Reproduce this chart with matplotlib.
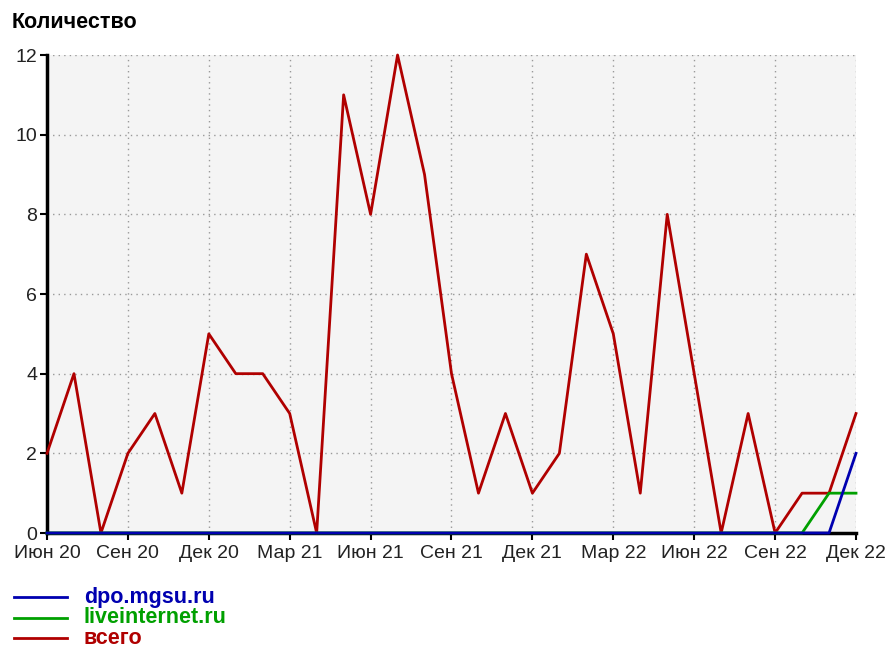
import matplotlib
matplotlib.use("Agg")
import matplotlib.pyplot as plt
from matplotlib.lines import Line2D

plt.rcParams['font.family'] = ['Liberation Sans', 'DejaVu Sans']

# monthly values, Jun 2020 .. Dec 2022
months = list(range(31))
total = [2, 4, 0, 2, 3, 1, 5, 4, 4, 3, 0, 11, 8, 12, 9, 4, 1, 3, 1, 2,
         7, 5, 1, 8, 4, 0, 3, 0, 1, 1, 3]
liveinternet = [0] * 29 + [1, 1]
dpo = [0] * 30 + [2]

tick_pos = list(range(0, 31, 3))
tick_labels = ['Июн 20', 'Сен 20', 'Дек 20', 'Мар 21', 'Июн 21', 'Сен 21',
               'Дек 21', 'Мар 22', 'Июн 22', 'Сен 22', 'Дек 22']
y_ticks = [0, 2, 4, 6, 8, 10, 12]

red = '#b00000'
green = '#00a000'
blue = '#0000b0'

fig = plt.figure(figsize=(8.87, 6.49), dpi=100)
ax = fig.add_axes([47 / 887, 1 - 533 / 649, (856 - 47) / 887, (533 - 55) / 649])
ax.set_facecolor('#f4f4f4')

ax.plot(months, total, color=red, lw=2, clip_on=False, zorder=3)
ax.plot(months, liveinternet, color=green, lw=2, clip_on=False, zorder=4)
ax.plot(months, dpo, color=blue, lw=2, clip_on=False, zorder=5)

ax.set_xlim(0, 30)
ax.set_ylim(0, 12)
ax.set_xticks(tick_pos)
ax.set_xticklabels(tick_labels)
ax.set_yticks(y_ticks)
ax.tick_params(axis='both', labelsize=14, color='black', width=1.5, length=5,
               labelcolor='#222222')
ax.tick_params(axis='x', pad=4)
ax.tick_params(axis='y', pad=2)
ax.grid(True, color='#999999', linestyle=(0, (1, 3)), linewidth=1)

for side in ['top', 'right']:
    ax.spines[side].set_visible(False)
for side in ['left', 'bottom']:
    ax.spines[side].set_linewidth(2.5)
    ax.spines[side].set_zorder(2)

fig.text(12 / 887, 1 - 23 / 649, 'Количество', fontsize=15.5, fontweight='bold',
         va='center', ha='left')

# legend below the chart
legend_items = [('dpo.mgsu.ru', blue), ('liveinternet.ru', green), ('всего', red)]
for i, (name, col) in enumerate(legend_items):
    y = 1 - (597 + i * 20.5) / 649
    fig.add_artist(Line2D([14 / 887, 67 / 887], [y, y], color=col, lw=2))
    fig.text(84 / 887, y, name, color=col, fontsize=15.5, fontweight='bold',
             va='center', ha='left')

fig.savefig('out.png', dpi=100)
